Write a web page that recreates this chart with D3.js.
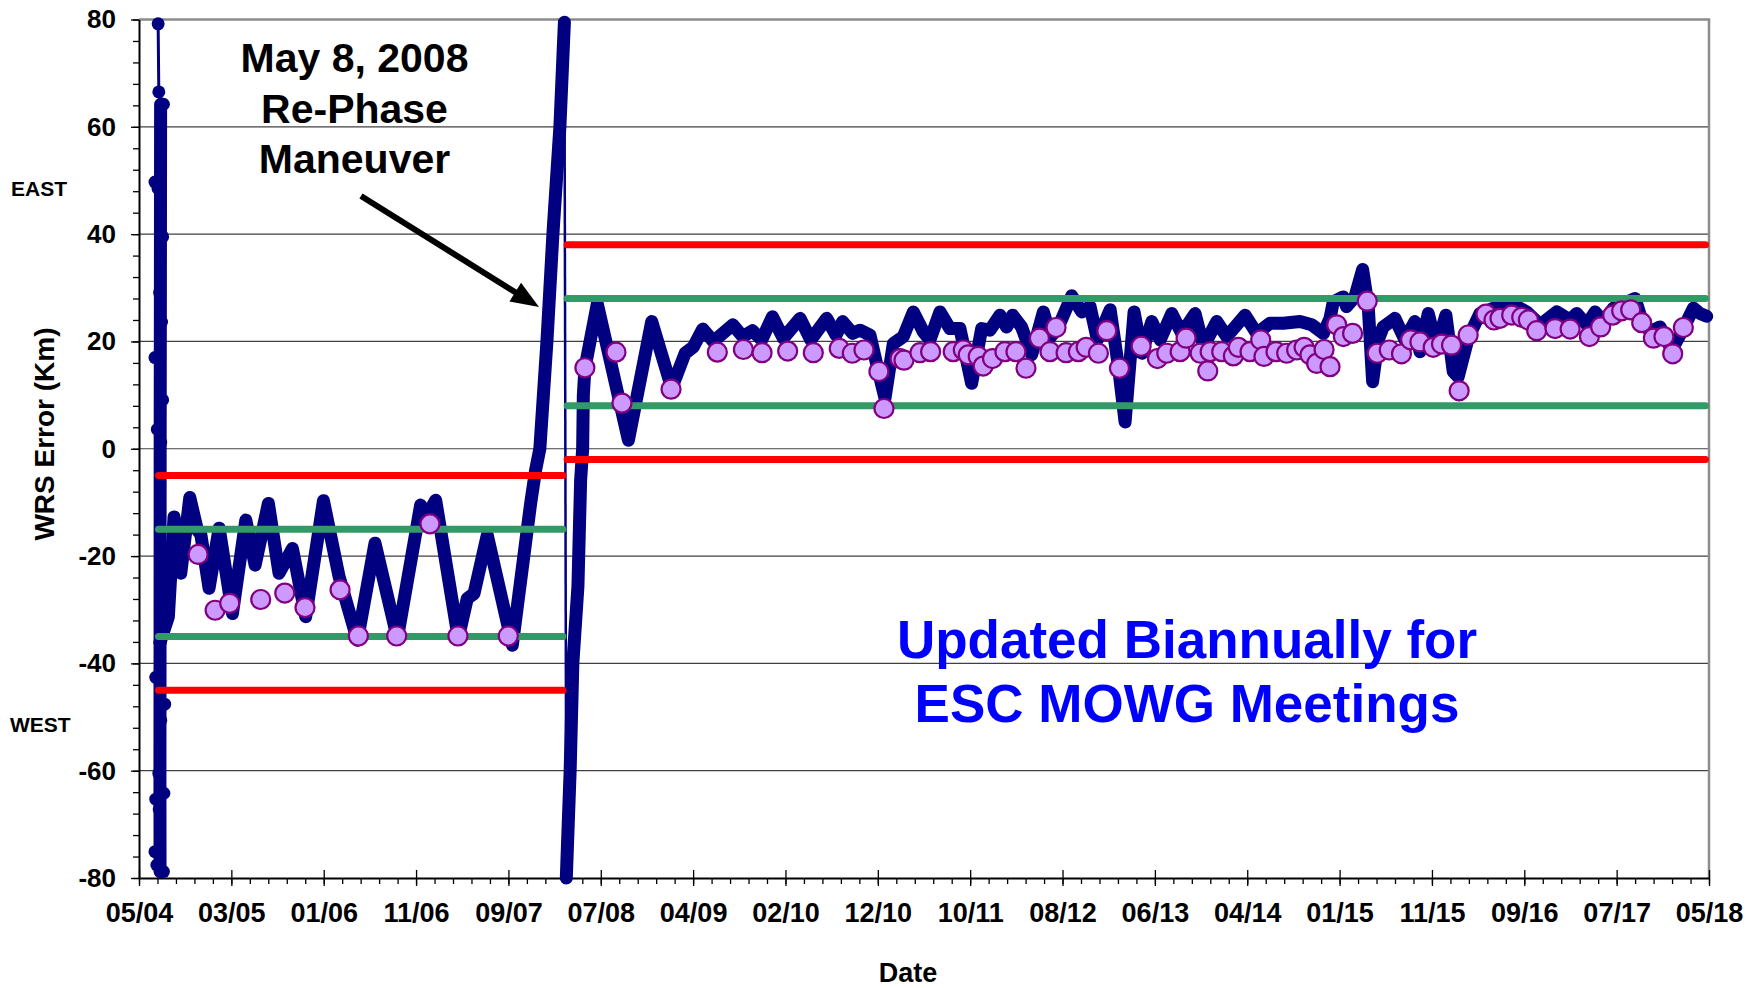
<!DOCTYPE html>
<html>
<head>
<meta charset="utf-8">
<script src="https://cdn.jsdelivr.net/npm/d3@7"></script>
<style>
  body { margin: 0; background: #fff; }
  text { font-family: Arial, "Liberation Sans", sans-serif; font-weight: bold; }
</style>
</head>
<body>
<div id="chart"></div>
<script>
// values: x as decimal year, y as WRS error in km

// x axis tick labels (Excel date axis, one major unit = 300 days)
const tickLabels = ["05/04", "03/05", "01/06", "11/06", "09/07", "07/08", "04/09", "02/10", "12/10",
    "10/11", "08/12", "06/13", "04/14", "01/15", "11/15", "09/16", "07/17", "05/18"];

// first days of the record: sparse fixes while still drifting
const earlyYr = [2004.566, 2004.572, 2004.613, 2004.538, 2004.565, 2004.606, 2004.579, 2004.596, 2004.538,
    2004.606, 2004.559, 2004.589, 2004.583, 2004.545, 2004.624, 2004.589, 2004.572, 2004.617, 2004.545,
    2004.576, 2004.538, 2004.555, 2004.613];
const earlyKm = [79.2, 66.5, 64.2, 49.7, 48.5, 39.5, 29.1, 23.6, 17.0, 9.1, 3.6, 1.2, -36.1, -42.6, -47.6,
    -50.6, -60.5, -64.2, -65.3, -67.2, -75.1, -77.6, -78.8];
// dense daily band under those fixes
const bandYr = [2004.588, 2004.586, 2004.584, 2004.583, 2004.582, 2004.583];
const bandKm = [64.2, 30, 1.2, -36.1, -60, -78.8];

// old slot, up to the re-phase maneuver
const preYr = [2004.583, 2004.657, 2004.707, 2004.767, 2004.847, 2004.915, 2004.945, 2005.018, 2005.108,
    2005.226, 2005.345, 2005.428, 2005.546, 2005.641, 2005.760, 2005.878, 2006.036, 2006.175, 2006.338,
    2006.495, 2006.694, 2006.901, 2006.952, 2007.035, 2007.236, 2007.316, 2007.376, 2007.494, 2007.717,
    2007.880, 2007.924, 2007.962, 2008.025, 2008.078, 2008.140, 2008.180];
const preKm = [-36.1, -31.3, -12.7, -23.2, -9.1, -15.2, -16.0, -26.0, -14.8, -30.7, -13.3, -21.7, -10.2,
    -23.2, -18.6, -31.3, -9.7, -23.8, -35.7, -17.6, -35.3, -10.5, -12.7, -9.6, -35.3, -27.9, -27.0, -16.1,
    -36.6, -10.2, -4.0, 0, 20, 40, 60, 79.5];

// new slot, after the maneuver
const postYr = [2008.197, 2008.207, 2008.231, 2008.255, 2008.300, 2008.324, 2008.342, 2008.348, 2008.362,
    2008.472, 2008.748, 2008.955, 2009.133, 2009.252, 2009.326, 2009.409, 2009.504, 2009.676, 2009.765,
    2009.851, 2009.934, 2010.029, 2010.126, 2010.275, 2010.370, 2010.512, 2010.595, 2010.654, 2010.743,
    2010.808, 2010.897, 2010.962, 2011.031, 2011.105, 2011.194, 2011.283, 2011.372, 2011.431, 2011.520,
    2011.609, 2011.698, 2011.802, 2011.891, 2011.965, 2012.054, 2012.113, 2012.166, 2012.246, 2012.335,
    2012.439, 2012.504, 2012.564, 2012.691, 2012.780, 2012.854, 2012.919, 2013.032, 2013.106, 2013.165,
    2013.245, 2013.314, 2013.403, 2013.477, 2013.580, 2013.669, 2013.788, 2013.862, 2013.981, 2014.070,
    2014.233, 2014.337, 2014.455, 2014.574, 2014.722, 2014.826, 2014.930, 2014.989, 2015.018, 2015.107,
    2015.136, 2015.210, 2015.279, 2015.329, 2015.368, 2015.418, 2015.462, 2015.566, 2015.655, 2015.744,
    2015.789, 2015.863, 2015.937, 2016.020, 2016.085, 2016.129, 2016.218, 2016.322, 2016.441, 2016.545,
    2016.648, 2016.737, 2016.856, 2017.004, 2017.123, 2017.182, 2017.271, 2017.345, 2017.419, 2017.508,
    2017.701, 2017.760, 2017.834, 2017.923, 2018.027, 2018.131, 2018.220, 2018.279, 2018.338];
const postKm = [-80, -74, -60, -40, -25.7, -5.9, 0, 10, 15, 27.0, 1.6, 23.7, 11.3, 17.8, 19.0, 22.3, 20.0,
    23.1, 20.9, 22.0, 20.3, 24.6, 20.6, 24.3, 20.3, 24.3, 21.2, 23.7, 21.5, 22.1, 21.2, 15.3, 9.4, 19.6,
    20.9, 25.5, 21.8, 20.3, 25.5, 22.4, 22.4, 12.2, 22.4, 22.1, 24.9, 22.7, 24.9, 22.7, 17.5, 25.5, 20.9,
    22.3, 28.5, 25.5, 26.5, 20.3, 25.9, 15.3, 5.0, 25.5, 17.8, 23.7, 20.3, 25.2, 21.5, 25.2, 19.0, 23.7,
    20.9, 24.9, 21.5, 23.4, 23.4, 23.7, 23.1, 21.5, 24.3, 27.4, 28.3, 26.5, 28.3, 33.4, 26.5, 12.5, 20.3,
    22.7, 24.3, 20.3, 23.7, 18.1, 25.2, 19.0, 24.9, 14.4, 13.4, 20.6, 25.2, 26.2, 26.5, 26.5, 25.5, 23.1,
    25.5, 24.0, 25.2, 23.1, 25.5, 23.7, 26.2, 28.0, 24.0, 21.8, 22.7, 18.4, 22.4, 26.2, 25.2, 24.7];

// biannual MOWG sample points
const biYr = [2004.921, 2005.072, 2005.202, 2005.478, 2005.692, 2005.872, 2006.184, 2006.347, 2006.688,
    2006.984, 2007.233, 2007.681, 2008.362, 2008.638, 2008.691, 2009.127, 2009.539, 2009.771, 2009.937,
    2010.165, 2010.393, 2010.624, 2010.740, 2010.844, 2010.977, 2011.022, 2011.165, 2011.200, 2011.342,
    2011.437, 2011.638, 2011.728, 2011.772, 2011.861, 2011.905, 2011.988, 2012.098, 2012.196, 2012.285,
    2012.404, 2012.498, 2012.552, 2012.641, 2012.750, 2012.819, 2012.928, 2013.002, 2013.115, 2013.308,
    2013.453, 2013.536, 2013.655, 2013.708, 2013.833, 2013.901, 2013.922, 2014.025, 2014.129, 2014.173,
    2014.277, 2014.372, 2014.401, 2014.508, 2014.603, 2014.692, 2014.758, 2014.811, 2014.870, 2014.936,
    2014.989, 2015.048, 2015.108, 2015.190, 2015.320, 2015.409, 2015.516, 2015.625, 2015.706, 2015.789,
    2015.907, 2015.981, 2016.070, 2016.138, 2016.218, 2016.376, 2016.447, 2016.500, 2016.604, 2016.693,
    2016.752, 2016.826, 2016.989, 2017.123, 2017.295, 2017.395, 2017.502, 2017.582, 2017.662, 2017.760,
    2017.864, 2017.958, 2018.036, 2018.131];
const biKm = [-19.7, -30.1, -28.8, -28.1, -26.9, -29.6, -26.3, -34.9, -34.9, -14.0, -34.9, -34.9, 15.1,
    18.0, 8.5, 11.1, 18.0, 18.5, 17.9, 18.2, 17.9, 18.7, 17.8, 18.4, 14.4, 7.5, 16.8, 16.5, 17.9, 18.1,
    18.1, 18.4, 17.5, 17.2, 15.4, 16.8, 18.1, 18.1, 15.0, 20.6, 18.1, 22.6, 17.9, 18.1, 18.9, 17.8, 22.0,
    15.0, 19.1, 16.8, 17.8, 18.1, 20.6, 17.8, 14.5, 18.1, 18.1, 17.3, 18.9, 18.1, 20.3, 17.2, 18.1, 17.8,
    18.4, 18.9, 17.5, 15.9, 18.5, 15.3, 23.1, 20.9, 21.5, 27.5, 17.8, 18.4, 17.7, 20.3, 19.9, 18.9, 19.5,
    19.3, 10.8, 21.2, 25.1, 24.0, 24.3, 24.9, 24.5, 24.0, 22.0, 22.4, 22.3, 20.9, 22.7, 24.9, 25.7, 25.9,
    23.5, 20.6, 20.9, 17.7, 22.6];

// control box limits for each slot
const prePeriod = [2004.569, 2008.167];
const postPeriod = [2008.204, 2018.328];
const preRed = [-5, -45], preGreen = [-15, -35];
const postRed = [38, -2], postGreen = [28, 8];

var margin = ({top: 19.5, right: 50, bottom: 110, left: 139});
var width = 1759 - margin.left - margin.right,
    height = 988 - margin.top - margin.bottom;

var svg = d3.select("#chart").append("svg")
    .attr("width", 1759)
    .attr("height", 988);

var g = svg.append("g")
    .attr("transform", "translate(" + margin.left + "," + margin.top + ")");

function yr2date(y) {
    const Y = Math.floor(y);
    const a = new Date(Y, 0, 1), b = new Date(Y + 1, 0, 1);
    return new Date(+a + (y - Y) * (b - a));
}

const start = new Date(2004, 4, 25);
const tickDates = tickLabels.map((d, i) => d3.timeDay.offset(start, 300 * i));
const minorDates = d3.range(0, 5101, 60).map(d => d3.timeDay.offset(start, d));

const xScale = d3.scaleTime()
    .domain([start, tickDates[tickDates.length - 1]])
    .range([0, width]);

const yScale = d3.scaleLinear()
    .domain([-80, 80])
    .range([height, 0]);

// gridlines
g.append("g")
    .selectAll("line")
    .data(d3.range(-60, 61, 20))
    .join("line")
    .attr("x1", 0)
    .attr("x2", width)
    .attr("y1", d => yScale(d))
    .attr("y2", d => yScale(d))
    .attr("stroke", "#404040")
    .attr("stroke-width", 1.2);

// plot area border (top and right)
g.append("path")
    .attr("d", `M0,${yScale(80)}H${width}V${height}`)
    .attr("fill", "none")
    .attr("stroke", "#8c8c8c")
    .attr("stroke-width", 2.5);

// axes
const yMinor = d3.axisLeft(yScale).tickValues(d3.range(-80, 81, 4)).tickSize(6).tickFormat("");
g.append("g").attr("class", "axis y-minor").call(yMinor);

const yAxis = d3.axisLeft(yScale)
    .tickValues(d3.range(-80, 81, 20))
    .tickSizeInner(8)
    .tickSizeOuter(0)
    .tickPadding(15)
    .tickFormat(d => String(d));
g.append("g").attr("class", "axis y-axis").call(yAxis);

const xMinor = d3.axisBottom(xScale).tickValues(minorDates).tickSize(6).tickFormat("");
g.append("g").attr("class", "axis x-minor")
    .attr("transform", `translate(0, ${height})`)
    .call(xMinor);

const xAxis = d3.axisBottom(xScale)
    .tickValues(tickDates)
    .tickSizeInner(8)
    .tickSizeOuter(0)
    .tickPadding(17)
    .tickFormat((d, i) => tickLabels[i]);
g.append("g").attr("class", "axis x-axis")
    .attr("transform", `translate(0, ${height})`)
    .call(xAxis);

g.selectAll(".x-axis .tick line").attr("y1", -8).attr("y2", 8);
g.selectAll(".axis path.domain").attr("stroke", "#000").attr("stroke-width", 2);
g.selectAll(".axis .tick line").attr("stroke", "#000").attr("stroke-width", 1.3);
g.selectAll(".x-minor path.domain, .y-minor path.domain").remove();
g.selectAll(".y-axis text").attr("font-size", 26).attr("fill", "#000");
g.selectAll(".x-axis text").attr("font-size", 27).attr("fill", "#000");

// WRS error trace
const line = d3.line()
    .x(d => xScale(yr2date(d[0])))
    .y(d => yScale(d[1]));

const early = d3.zip(earlyYr, earlyKm);
const band = d3.zip(bandYr, bandKm);
const pre = d3.zip(preYr, preKm);
const post = d3.zip(postYr, postKm);
const navy = "#000080";

// sparse jumps are drawn thin
g.append("path")
    .attr("d", line(early.slice(0, 3)))
    .attr("fill", "none")
    .attr("stroke", navy)
    .attr("stroke-width", 3);

g.append("path")
    .attr("d", line([pre[pre.length - 1], post[0]]))
    .attr("fill", "none")
    .attr("stroke", navy)
    .attr("stroke-width", 2.5);

[band, pre, post].forEach(function(seg) {
    g.append("path")
        .attr("class", "trace")
        .attr("d", line(seg))
        .attr("fill", "none")
        .attr("stroke", navy)
        .attr("stroke-width", 13)
        .attr("stroke-linejoin", "round")
        .attr("stroke-linecap", "round");
});

g.selectAll(".early-dot")
    .data(early)
    .join("circle")
    .attr("class", "early-dot")
    .attr("cx", d => xScale(yr2date(d[0])))
    .attr("cy", d => yScale(d[1]))
    .attr("r", 6.5)
    .attr("fill", navy);

// limit lines
const limits = [
    ...preRed.map(v => ({period: prePeriod, value: v, color: "#ff0000"})),
    ...preGreen.map(v => ({period: prePeriod, value: v, color: "#339966"})),
    ...postRed.map(v => ({period: postPeriod, value: v, color: "#ff0000"})),
    ...postGreen.map(v => ({period: postPeriod, value: v, color: "#339966"}))
];

g.selectAll(".limit")
    .data(limits)
    .join("line")
    .attr("class", "limit")
    .attr("x1", d => xScale(yr2date(d.period[0])))
    .attr("x2", d => xScale(yr2date(d.period[1])))
    .attr("y1", d => yScale(d.value))
    .attr("y2", d => yScale(d.value))
    .attr("stroke", d => d.color)
    .attr("stroke-width", 7)
    .attr("stroke-linecap", "round");

// biannual points
g.selectAll(".bi")
    .data(d3.zip(biYr, biKm))
    .join("circle")
    .attr("class", "bi")
    .attr("cx", d => xScale(yr2date(d[0])))
    .attr("cy", d => yScale(d[1]))
    .attr("r", 9.5)
    .attr("fill", "#cc99ff")
    .attr("stroke", "#800080")
    .attr("stroke-width", 2.2);

// axis titles and side labels
svg.append("text")
    .attr("transform", "translate(54, 434) rotate(-90)")
    .attr("text-anchor", "middle")
    .attr("font-size", 28)
    .text("WRS Error (Km)");

svg.append("text")
    .attr("x", 908)
    .attr("y", 982)
    .attr("text-anchor", "middle")
    .attr("font-size", 27)
    .text("Date");

svg.append("text").attr("x", 11).attr("y", 196).attr("font-size", 21).text("EAST");
svg.append("text").attr("x", 10).attr("y", 732).attr("font-size", 21).text("WEST");

// maneuver annotation
const note = ["May 8, 2008", "Re-Phase", "Maneuver"];
svg.append("g")
    .selectAll("text")
    .data(note)
    .join("text")
    .attr("x", 354.5)
    .attr("y", (d, i) => 71.7 + i * 50.8)
    .attr("text-anchor", "middle")
    .attr("font-size", 41)
    .text(d => d);

const from = [361, 196], tip = [539, 307];
const len = Math.hypot(tip[0] - from[0], tip[1] - from[1]);
const ux = (tip[0] - from[0]) / len, uy = (tip[1] - from[1]) / len;
const headLen = 28, headW = 11;
const bx = tip[0] - ux * headLen, by = tip[1] - uy * headLen;

svg.append("line")
    .attr("x1", from[0])
    .attr("y1", from[1])
    .attr("x2", bx + ux * 2)
    .attr("y2", by + uy * 2)
    .attr("stroke", "#000")
    .attr("stroke-width", 6);

svg.append("polygon")
    .attr("points", [tip, [bx - uy * headW, by + ux * headW], [bx + uy * headW, by - ux * headW]].join(" "))
    .attr("fill", "#000");

// update note
const memo = ["Updated Biannually for", "ESC MOWG Meetings"];
svg.append("g")
    .selectAll("text")
    .data(memo)
    .join("text")
    .attr("x", 1187)
    .attr("y", (d, i) => 658 + i * 64)
    .attr("text-anchor", "middle")
    .attr("font-size", 53)
    .attr("fill", "#0000ff")
    .text(d => d);
</script>
</body>
</html>
